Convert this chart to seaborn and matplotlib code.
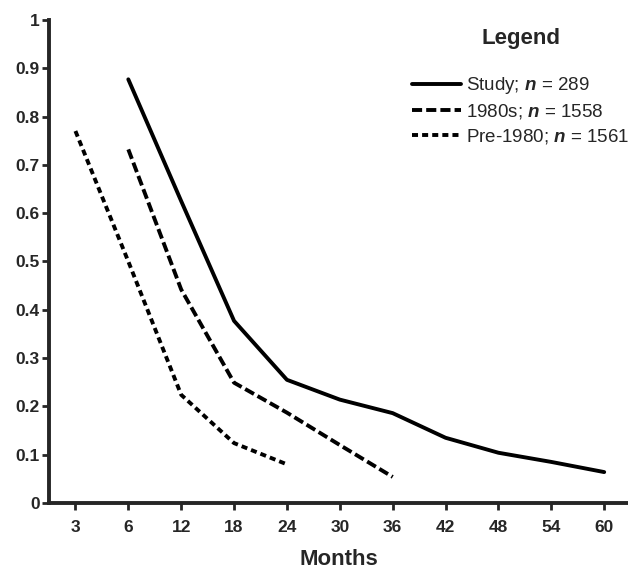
import pandas as pd
import matplotlib
matplotlib.use("Agg")
import matplotlib.pyplot as plt
import seaborn as sns
from matplotlib.lines import Line2D

# Months shown on the x axis (evenly spaced categories)
months = [3, 6, 12, 18, 24, 30, 36, 42, 48, 54, 60]

# Series
study_months = [6, 12, 18, 24, 30, 36, 42, 48, 54, 60]
study_vals = [0.877, 0.625, 0.377, 0.255, 0.214, 0.186, 0.135, 0.104, 0.085, 0.064]

s1980_months = [6, 12, 18, 24, 30, 36]
s1980_vals = [0.732, 0.442, 0.249, 0.187, 0.12, 0.054]

pre_months = [3, 6, 12, 18, 24]
pre_vals = [0.77, 0.5, 0.224, 0.124, 0.08]

labels = ["Study; $n$ = 289", "1980s; $n$ = 1558", "Pre-1980; $n$ = 1561"]
y_ticks = [0, 0.1, 0.2, 0.3, 0.4, 0.5, 0.6, 0.7, 0.8, 0.9, 1]
y_tick_labels = ["0", "0.1", "0.2", "0.3", "0.4", "0.5", "0.6", "0.7", "0.8", "0.9", "1"]

sns.set_style("ticks")
plt.rcParams["font.family"] = ["Liberation Sans", "DejaVu Sans"]
plt.rcParams["mathtext.fontset"] = "custom"
plt.rcParams["mathtext.rm"] = "Liberation Sans"
plt.rcParams["mathtext.it"] = "Liberation Sans:bold:italic"

# long table, months mapped to their slot on the axis
rows = []
for lab, ms, vs in zip(labels, [study_months, s1980_months, pre_months],
                       [study_vals, s1980_vals, pre_vals]):
    for m, v in zip(ms, vs):
        rows.append({"pos": months.index(m), "val": v, "series": lab})
df = pd.DataFrame(rows)

LW = 2.8
dash_b = (2.6, 1.05)
dot_b = (1.55, 1.05)
dashes = {labels[0]: "", labels[1]: dash_b, labels[2]: dot_b}

fig = plt.figure(figsize=(6.28, 5.69), dpi=100)
ax = fig.add_axes([0.078, 0.116, 0.922, 0.849])

sns.lineplot(data=df, x="pos", y="val", hue="series", style="series",
             palette=["black"] * 3, dashes=dashes, linewidth=LW,
             legend=False, ax=ax)
for ln in ax.get_lines():
    ln.set_dash_capstyle("butt")

ax.set_xlim(-0.5, 10.45)
ax.set_ylim(0, 1)
ax.set_xticks(range(len(months)))
ax.set_xticklabels([str(m) for m in months])
ax.set_yticks(y_ticks)
ax.set_yticklabels(y_tick_labels)

for side in ["top", "right"]:
    ax.spines[side].set_visible(False)
for side in ["left", "bottom"]:
    ax.spines[side].set_linewidth(2.8)
ax.tick_params(axis="both", direction="out", width=2, length=5,
               labelsize=12.5)
ax.tick_params(axis="x", pad=7)
ax.tick_params(axis="y", pad=1.5)
for t in ax.get_xticklabels() + ax.get_yticklabels():
    t.set_fontweight("bold")

ax.set_xlabel("Months", fontsize=16, fontweight="bold", labelpad=10)
ax.set_ylabel("")

# line dashes get scaled by linewidth, same as in the plot
handles = [Line2D([], [], color="black", lw=LW, linestyle="-"),
           Line2D([], [], color="black", lw=LW, linestyle=(0, dash_b),
                  dash_capstyle="butt"),
           Line2D([], [], color="black", lw=LW, linestyle=(0, dot_b),
                  dash_capstyle="butt")]
leg = ax.legend(handles, labels, title="Legend", loc="upper right",
                bbox_to_anchor=(1.005, 0.987), frameon=False, fontsize=13.5,
                title_fontsize=16, handlelength=2.6, handletextpad=0.25,
                labelspacing=0.3, borderaxespad=0.0, borderpad=0.1)
leg.get_title().set_fontweight("bold")
leg._legend_box.sep = 19

fig.savefig("out.png", dpi=100)
